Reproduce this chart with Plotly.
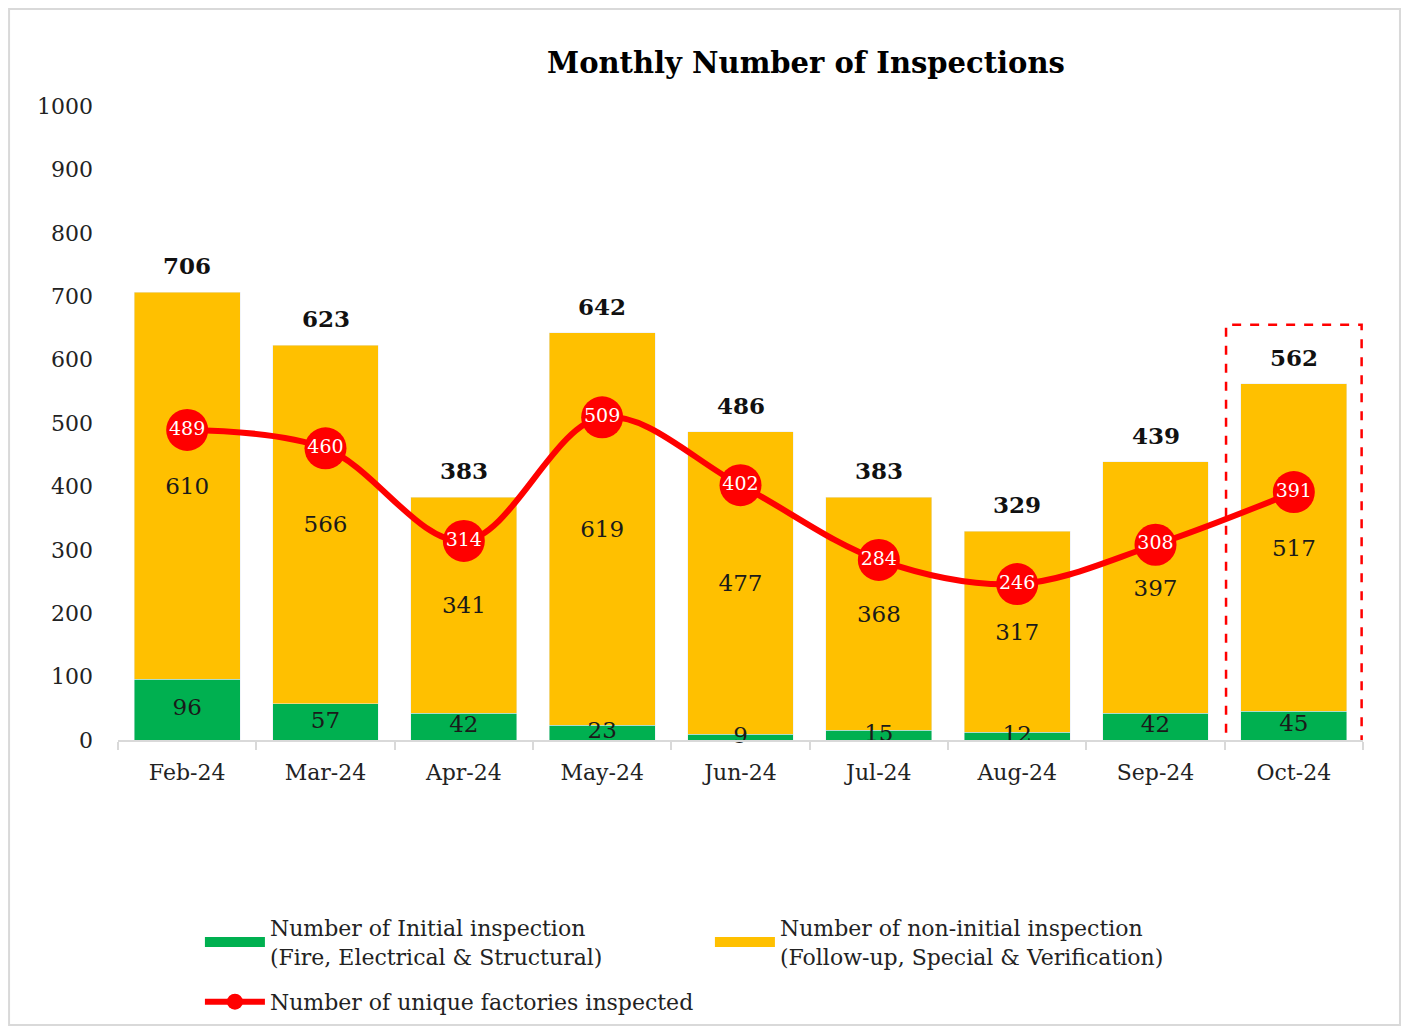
import plotly.graph_objects as go

months = ["Feb-24", "Mar-24", "Apr-24", "May-24", "Jun-24", "Jul-24", "Aug-24", "Sep-24", "Oct-24"]
initial = [96, 57, 42, 23, 9, 15, 12, 42, 45]
non_initial = [610, 566, 341, 619, 477, 368, 317, 397, 517]
unique_factories = [489, 460, 314, 509, 402, 284, 246, 308, 391]
totals = [a + b for a, b in zip(initial, non_initial)]
initial_mid = [v / 2 for v in initial]

GREEN = "#00B050"
YELLOW = "#FFC000"
RED = "#FF0000"
FONT = "DejaVu Serif"

fig = go.Figure()

fig.add_trace(go.Bar(
    x=months, y=initial, marker_color=GREEN, showlegend=False, hoverinfo="skip",
))
fig.add_trace(go.Bar(
    x=months, y=non_initial, marker_color=YELLOW, showlegend=False,
    text=non_initial, textposition="inside", insidetextanchor="middle",
    textangle=0, constraintext="none", cliponaxis=False,
    textfont=dict(family=FONT, size=23, color="#1a1a1a"),
    hoverinfo="skip",
))

# initial-inspection labels (drawn on top so small segments stay readable)
fig.add_trace(go.Scatter(
    x=months, y=initial_mid, mode="text", text=initial, textposition="middle center",
    textfont=dict(family=FONT, size=23, color="#1a1a1a"),
    showlegend=False, cliponaxis=False, hoverinfo="skip",
))

# line
fig.add_trace(go.Scatter(
    x=months, y=unique_factories, mode="lines+markers",
    line=dict(color=RED, width=6, shape="spline", smoothing=1.0),
    marker=dict(color=RED, size=42),
    name="Number of unique factories inspected",
    showlegend=True, legend="legend2", cliponaxis=False,
))
fig.add_trace(go.Scatter(
    x=months, y=unique_factories, mode="text", text=unique_factories,
    textposition="middle center",
    textfont=dict(family=FONT, size=19, color="white"),
    showlegend=False, cliponaxis=False, hoverinfo="skip",
))

# legend entries for bars
fig.add_trace(go.Scatter(
    x=[None], y=[None], mode="lines", line=dict(color=GREEN, width=12),
    name="Number of Initial inspection<br>(Fire, Electrical & Structural)",
    legendrank=1, legend="legend",
))
fig.add_trace(go.Scatter(
    x=[None], y=[None], mode="lines", line=dict(color=YELLOW, width=12),
    name="Number of non-initial inspection<br>(Follow-up, Special & Verification)",
    legendrank=2, legend="legend",
))

# totals above bars
for m, t in zip(months, totals):
    fig.add_annotation(x=m, y=t, text=f"<b>{t}</b>", showarrow=False,
                       yanchor="bottom", yshift=11,
                       font=dict(family=FONT, size=23, color="#111111"))

# dashed highlight box around last month
fig.add_shape(type="rect", xref="x", yref="y", x0=7.51, x1=8.49, y0=-20, y1=655,
              line=dict(color=RED, width=2.5, dash="dash"), layer="above")

# outer border
fig.add_shape(type="rect", xref="paper", yref="paper",
              x0=-0.0875, x1=1.0297, y0=-0.4495, y1=1.1530,
              line=dict(color="#D9D9D9", width=2))

legend_font = dict(family=FONT, size=22, color="#222222")

fig.update_layout(
    width=1393, height=1018,
    margin=dict(l=110, r=38, t=98, b=286, autoexpand=False),
    paper_bgcolor="white", plot_bgcolor="white",
    barmode="stack", bargap=0.234,
    font=dict(family=FONT, size=22, color="#111111"),
    title=dict(text="<b>Monthly Number of Inspections</b>", xref="paper", x=0.5526,
               xanchor="center", yref="container", y=0.946, yanchor="middle",
               font=dict(family=FONT, size=29, color="#000000")),
    xaxis=dict(range=[-0.5, 8.5], showline=True, linecolor="#D9D9D9", linewidth=2,
               ticks="outside", tickson="boundaries", ticklen=8, tickcolor="#D9D9D9",
               tickwidth=2, ticklabelstandoff=12, automargin=False,
               tickfont=dict(family=FONT, size=22, color="#222222"), showgrid=False),
    yaxis=dict(range=[0, 1000], dtick=100, showgrid=False, showline=False, ticks="",
               zeroline=False, ticklabelstandoff=24, automargin=False,
               tickfont=dict(family=FONT, size=22, color="#222222")),
    legend=dict(orientation="h", x=0.0658, xanchor="left", y=-0.3194, yanchor="middle",
                traceorder="normal",
                entrywidth=435, entrywidthmode="pixels",
                font=legend_font, itemwidth=60),
    legend2=dict(orientation="h", x=0.0658, xanchor="left", y=-0.413, yanchor="middle",
                 font=legend_font, itemwidth=60),
)

fig.write_html("out.html")
